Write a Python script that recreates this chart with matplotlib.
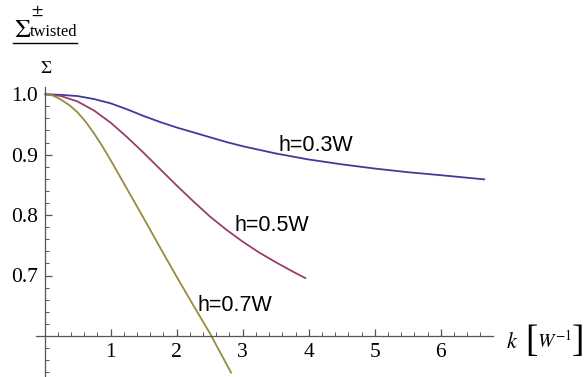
import numpy as np
import matplotlib
matplotlib.use("Agg")
import matplotlib.pyplot as plt
from matplotlib.lines import Line2D

plt.rcParams['mathtext.fontset'] = 'stix'
plt.rcParams['font.family'] = 'Liberation Serif'

# ratio Sigma_twisted / Sigma against k for three heights
k_03 = [0, 0.25, 0.5, 0.75, 1.0, 1.25, 1.5, 1.75, 2.0, 2.25, 2.5, 2.75, 3.0,
        3.5, 4.0, 4.5, 5.0, 5.5, 6.0, 6.67]
s_03 = [1.0, 0.999, 0.997, 0.992, 0.985, 0.975, 0.964, 0.954, 0.945, 0.937,
        0.929, 0.921, 0.914, 0.902, 0.892, 0.884, 0.877, 0.871, 0.866, 0.859]

k_05 = [0, 0.25, 0.5, 0.75, 1.0, 1.25, 1.5, 1.75, 2.0, 2.25, 2.5, 2.75, 3.0,
        3.25, 3.5, 3.75, 3.96]
s_05 = [1.0, 0.997, 0.988, 0.973, 0.953, 0.929, 0.903, 0.876, 0.849, 0.823,
        0.798, 0.776, 0.756, 0.738, 0.722, 0.707, 0.695]

k_07 = [0, 0.125, 0.25, 0.375, 0.5, 0.625, 0.75, 0.875, 1.0, 1.25, 1.5, 1.75,
        2.0, 2.25, 2.5, 2.83]
s_07 = [1.0, 0.998, 0.991, 0.982, 0.970, 0.954, 0.935, 0.914, 0.891, 0.843,
        0.795, 0.746, 0.698, 0.651, 0.605, 0.538]

labels = ["h=0.3W", "h=0.5W", "h=0.7W"]
label_pos = [(3.54, 0.915), (2.88, 0.782), (2.31, 0.650)]
colors = ["#3d3d99", "#993d71", "#998b3d"]

x_ticks = [1, 2, 3, 4, 5, 6]
y_ticks = [0.7, 0.8, 0.9, 1.0]

fig = plt.figure(figsize=(5.84, 3.77), dpi=100)
ax = fig.add_axes([36 / 584, 0.0, (493 - 36) / 584, 1 - 87 / 377])

for kk, ss, c in zip([k_03, k_05, k_07], [s_03, s_05, s_07], colors):
    ax.plot(kk, ss, color=c, lw=1.3, solid_capstyle='butt',
            solid_joinstyle='round')

for txt, (tx, ty) in zip(labels, label_pos):
    ax.text(tx, ty, txt, family='Liberation Sans', fontsize=15.5,
            ha='left', va='center')

ax.set_xlim(-0.13, 6.79)
ax.set_ylim(0.532, 1.012)

# axes cross at (0, 0.6)
ax.spines['left'].set_position(('data', 0))
ax.spines['bottom'].set_position(('data', 0.6))
ax.spines['top'].set_visible(False)
ax.spines['right'].set_visible(False)
for sp in ['left', 'bottom']:
    ax.spines[sp].set_color('#555555')
    ax.spines[sp].set_linewidth(0.9)

ax.set_xticks(x_ticks)
ax.set_xticklabels([str(v) for v in x_ticks])
ax.set_xticks(np.arange(0.2, 6.8, 0.2), minor=True)
ax.set_yticks(y_ticks)
ax.set_yticklabels(["%.1f" % v for v in y_ticks])
ax.set_yticks(np.arange(0.54, 1.01, 0.02), minor=True)

ax.tick_params(axis='both', which='major', direction='in', length=5,
               width=0.9, color='#555555', labelsize=15.5, pad=5)
ax.tick_params(axis='both', which='minor', direction='in', length=2.8,
               width=0.7, color='#555555')
ax.patch.set_alpha(0)

# y label: stacked fraction built from pieces
def px(x, y):
    return x / 584, 1 - y / 377

fig.text(*px(14, 37), r'$\Sigma$', fontsize=18.5, ha='left', va='baseline')
fig.text(*px(37.5, 15), r'$\pm$', fontsize=12, ha='center', va='baseline')
fig.text(*px(30, 35.5), 'twisted', fontsize=11.8, ha='left', va='baseline')
fig.add_artist(Line2D([13 / 584, 77 / 584], [1 - 43 / 377, 1 - 43 / 377],
                      color='black', lw=1.0))
fig.text(*px(46, 73), r'$\Sigma$', fontsize=12.5, ha='center', va='baseline')

# x label: k [W^-1]
fig.text(*px(506, 348), r'$k$', fontsize=16, ha='left', va='baseline')
fig.text(*px(525, 351), '[', fontsize=27, ha='left', va='baseline')
fig.text(*px(537, 348), r'$W^{-1}$', fontsize=14, ha='left', va='baseline')
fig.text(*px(584, 351), ']', fontsize=27, ha='right', va='baseline')

fig.savefig("out.png", dpi=100)
